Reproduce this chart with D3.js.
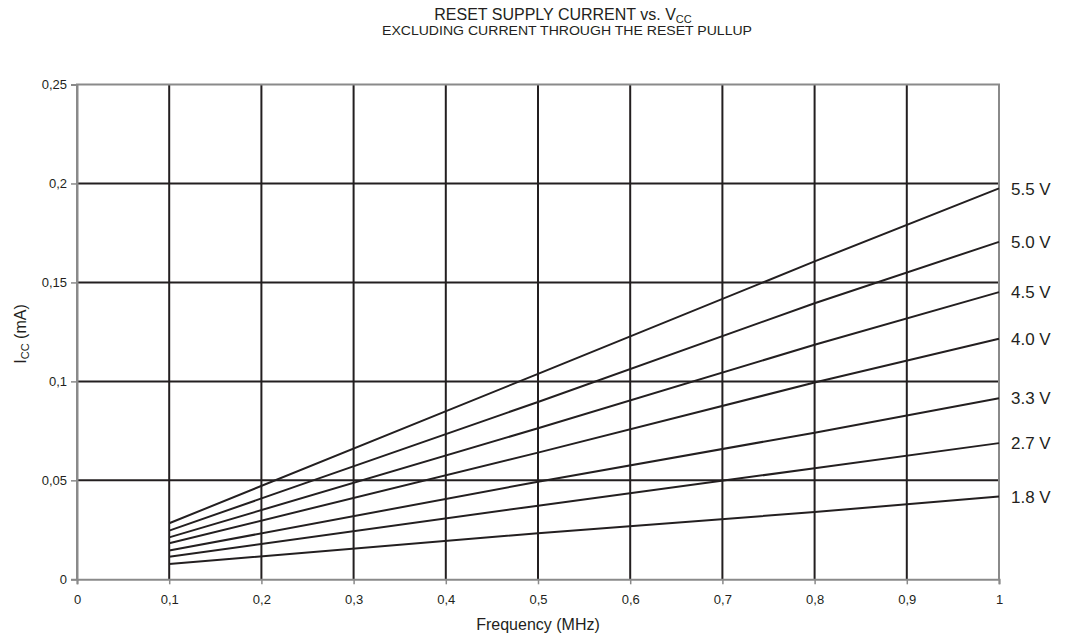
<!DOCTYPE html>
<html><head><meta charset="utf-8">
<script src="https://cdn.jsdelivr.net/npm/d3@7"></script>
<style>body{margin:0;background:#fff}svg{display:block;font-family:"Liberation Sans",Arial,sans-serif}</style>
</head><body><svg id="c" width="1066" height="636"></svg>
<script>
const freqs = [0.1, 0.5, 0.8, 1.0];
const labels = ["5.5 V","5.0 V","4.5 V","4.0 V","3.3 V","2.7 V","1.8 V"];
const v55 = [0.0283, 0.1038, 0.1606, 0.1975];
const v50 = [0.0246, 0.0896, 0.1395, 0.1705];
const v45 = [0.0212, 0.0763, 0.1185, 0.1451];
const v40 = [0.0182, 0.0640, 0.0994, 0.1215];
const v33 = [0.0145, 0.0493, 0.0741, 0.0915];
const v27 = [0.0114, 0.0372, 0.0561, 0.0688];
const v18 = [0.0077, 0.0233, 0.0340, 0.0418];
const xTicks = [0,0.1,0.2,0.3,0.4,0.5,0.6,0.7,0.8,0.9,1];
const yTicks = [0,0.05,0.1,0.15,0.2,0.25];
const seriesVals = [v55,v50,v45,v40,v33,v27,v18];

const svg = d3.select("#c");
const L=77,R=999,T=84.5,B=579.3;
const x = d3.scaleLinear().domain([0,1]).range([L,R]);
const y = d3.scaleLinear().domain([0,0.25]).range([B,T]);
const fmt = d => String(d).replace(".",",");
const ink="#231f20", gray="#8a8a8a";

// grid
svg.append("g").selectAll("line").data(yTicks.filter(d=>d>0&&d<0.25)).join("line")
  .attr("x1",L).attr("x2",R).attr("y1",d=>y(d)).attr("y2",d=>y(d))
  .attr("stroke",ink).attr("stroke-width",2);
svg.append("g").selectAll("line").data(xTicks.filter(d=>d>0&&d<1)).join("line")
  .attr("y1",T).attr("y2",B).attr("x1",d=>x(d)).attr("x2",d=>x(d))
  .attr("stroke",ink).attr("stroke-width",2);
// frame
svg.append("path").attr("d",`M${L},${B}V${T}H${R}V${B}`).attr("fill","none").attr("stroke",gray).attr("stroke-width",2);

// axes
const xa = svg.append("g").attr("transform",`translate(0,${B})`)
  .call(d3.axisBottom(x).tickValues(xTicks).tickFormat(fmt).tickSizeOuter(0).tickSize(5).tickPadding(10));
const ya = svg.append("g").attr("transform",`translate(${L},0)`)
  .call(d3.axisLeft(y).tickValues(yTicks).tickFormat(fmt).tickSizeOuter(0).tickSize(6).tickPadding(4));
[xa,ya].forEach(a=>{
  a.select(".domain").attr("stroke",gray).attr("stroke-width",2);
  a.selectAll(".tick line").attr("stroke",gray).attr("stroke-width",1.5);
  a.selectAll("text").attr("fill",ink).attr("font-size",13).attr("font-family","Liberation Sans, Arial, sans-serif");
});

// lines
const line = d3.line().x((d,i)=>x(freqs[i])).y(d=>y(d));
svg.append("g").selectAll("path").data(seriesVals).join("path")
  .attr("d",line).attr("fill","none").attr("stroke",ink).attr("stroke-width",2);
svg.append("g").selectAll("text").data(seriesVals).join("text")
  .attr("x",1011).attr("y",d=>y(d[d.length-1])).attr("dy","0.36em")
  .attr("font-size",17).attr("fill",ink).text((d,i)=>labels[i]);

// titles
const t = svg.append("text").attr("x",563).attr("y",20).attr("text-anchor","middle").attr("font-size",16).attr("fill",ink);
t.append("tspan").text("RESET SUPPLY CURRENT vs. V");
t.append("tspan").attr("font-size",11).attr("dy",2.5).text("CC");
svg.append("text").attr("x",567).attr("y",35).attr("text-anchor","middle").attr("font-size",12).attr("fill",ink)
  .attr("textLength",370).attr("lengthAdjust","spacingAndGlyphs")
  .text("EXCLUDING CURRENT THROUGH THE RESET PULLUP");
svg.append("text").attr("x",538).attr("y",630).attr("text-anchor","middle").attr("font-size",16).attr("fill",ink)
  .text("Frequency (MHz)");
const yt = svg.append("text").attr("transform","translate(26,334) rotate(-90)").attr("text-anchor","middle").attr("font-size",16).attr("fill",ink);
yt.append("tspan").text("I");
yt.append("tspan").attr("font-size",11).attr("dy",3).text("CC");
yt.append("tspan").attr("dy",-3).text(" (mA)");
</script></body></html>
